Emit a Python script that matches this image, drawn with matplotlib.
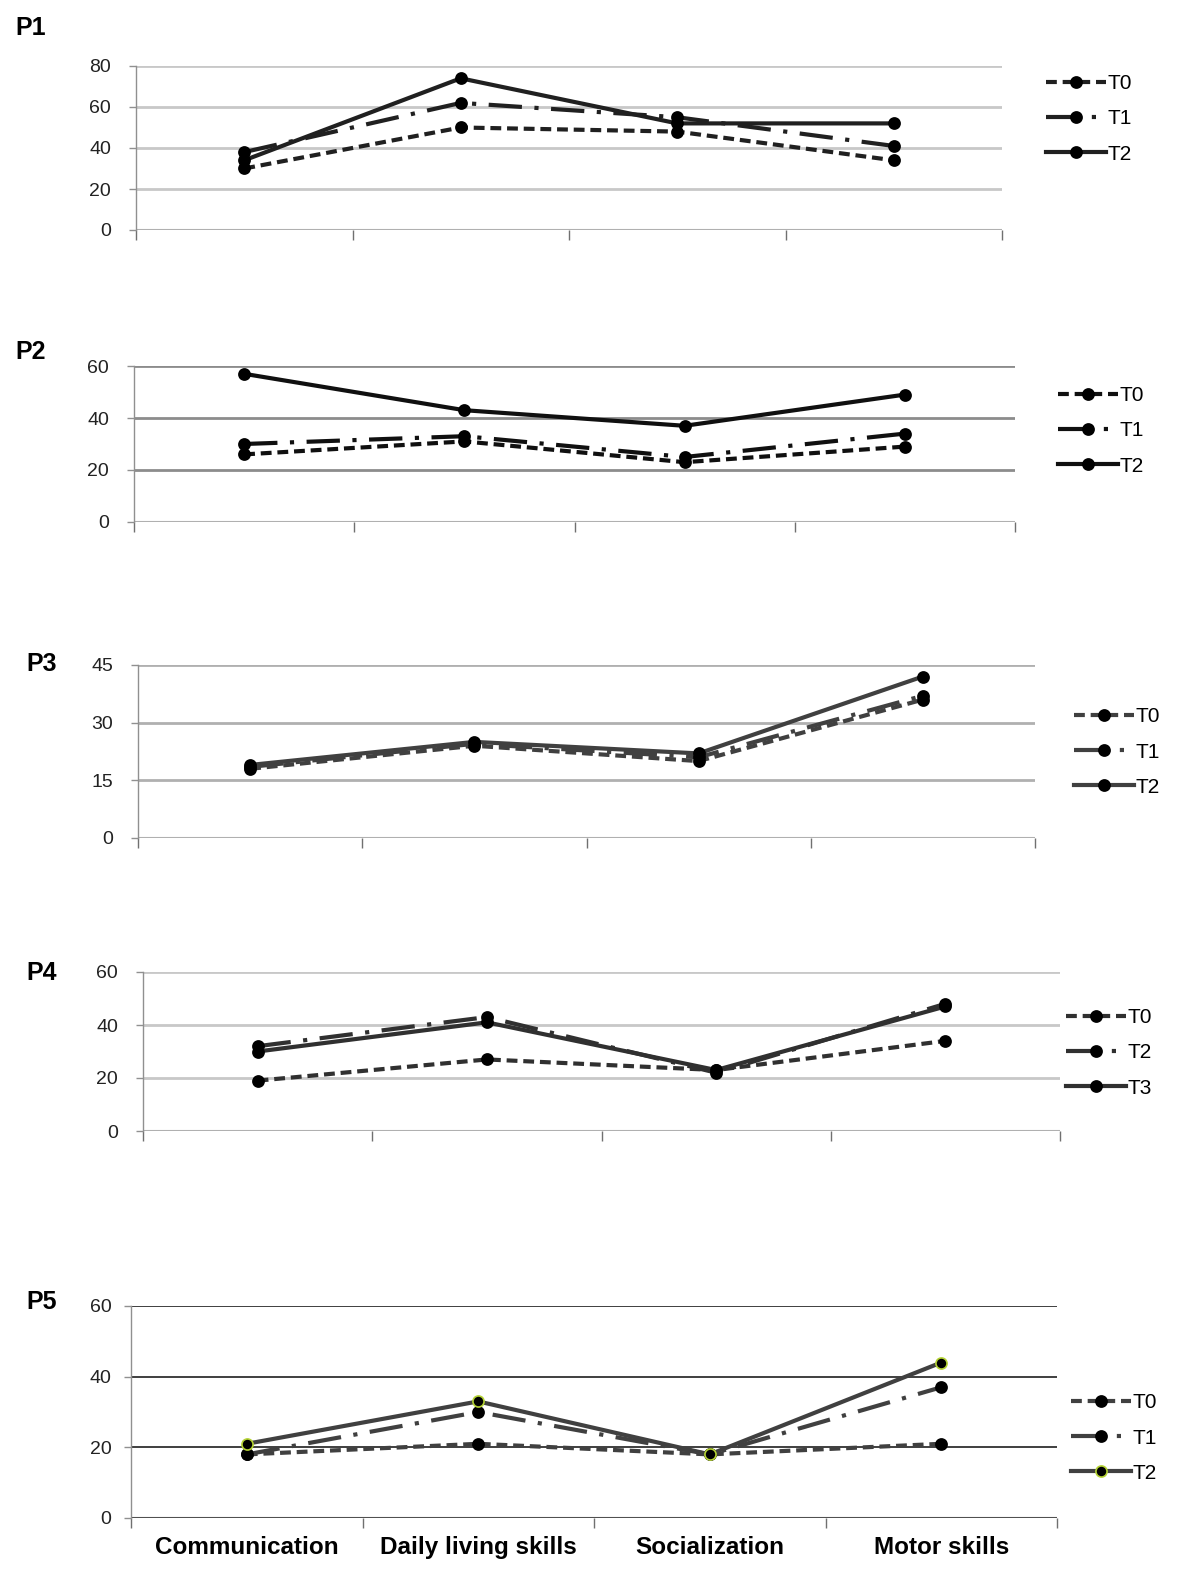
import matplotlib
matplotlib.use("Agg")
import matplotlib.pyplot as plt

plt.rcParams['font.family'] = ['Liberation Sans', 'DejaVu Sans']

categories = ["Communication", "Daily living skills", "Socialization", "Motor skills"]

# Panel data (T0, T1, T2 or T0, T2, T3 for P4)
p1_t0 = [30, 50, 48, 34]
p1_t1 = [38, 62, 55, 41]
p1_t2 = [34, 74, 52, 52]

p2_t0 = [26, 31, 23, 29]
p2_t1 = [30, 33, 25, 34]
p2_t2 = [57, 43, 37, 49]

p3_t0 = [18, 24, 20, 36]
p3_t1 = [18.5, 24.5, 21, 37]
p3_t2 = [19, 25, 22, 42]

p4_t0 = [19, 27, 23, 34]
p4_t2 = [32, 43, 22, 48]
p4_t3 = [30, 41, 23, 47]

p5_t0 = [18, 21, 18, 21]
p5_t1 = [18, 30, 18, 37]
p5_t2 = [21, 33, 18, 44]

panel_names = ["P1", "P2", "P3", "P4", "P5"]
legend_labels = [["T0", "T1", "T2"], ["T0", "T1", "T2"], ["T0", "T1", "T2"],
                 ["T0", "T2", "T3"], ["T0", "T1", "T2"]]
series = [[p1_t0, p1_t1, p1_t2], [p2_t0, p2_t1, p2_t2], [p3_t0, p3_t1, p3_t2],
          [p4_t0, p4_t2, p4_t3], [p5_t0, p5_t1, p5_t2]]
yticks = [[0, 20, 40, 60, 80], [0, 20, 40, 60], [0, 15, 30, 45], [0, 20, 40, 60], [0, 20, 40, 60]]

W, H = 1200, 1578
fig = plt.figure(figsize=(W / 100, H / 100), dpi=100)

# axes boxes in pixels: left, right, top, bottom
boxes = [(136, 1002, 66, 230), (134, 1015, 366, 522), (138, 1035, 665, 838),
         (143, 1060, 972, 1131), (131, 1057, 1306, 1518)]
grid_colors = ["#c8c8c8", "#8c8c8c", "#b0b0b0", "#c8c8c8", "#303030"]
label_pos = [(15, 28), (15, 352), (26, 664), (26, 973), (26, 1302)]
legend_pos = [(1046, 119), (1058, 431), (1074, 752), (1066, 1053), (1071, 1438)]
ytick_pad = [13, 13, 13, 13, 9]
line_colors = [["#202020"] * 3, ["#101010"] * 3, ["#404040"] * 3,
               ["#303030"] * 3, ["#404040"] * 3]
styles = [(0, (2.6, 1.4)), (0, (8, 3, 1, 3)), "-"]

x = [1, 2, 3, 4]
for i in range(5):
    l, r, t, b = boxes[i]
    ax = fig.add_axes([l / W, 1 - b / H, (r - l) / W, (b - t) / H])
    handles = []
    for j in range(3):
        mec = "#b5d334" if (i == 4 and j == 2) else "black"
        ln, = ax.plot(x, series[i][j], linestyle=styles[j], color=line_colors[i][j],
                      lw=3, marker="o", ms=8, mfc="black", mec=mec, mew=1.2,
                      label=legend_labels[i][j])
        handles.append(ln)
    ax.set_xlim(0.5, 4.5)
    ax.set_ylim(0, yticks[i][-1])
    ax.set_yticks(yticks[i])
    for yv in yticks[i][1:]:
        ax.axhline(yv, color=grid_colors[i], lw=2 if i != 4 else 1.3, zorder=0)
    ax.axhline(0, color="#b0b0b0" if i != 4 else "#505050", lw=1.5, zorder=0)
    ax.set_xticks([0.5, 1.5, 2.5, 3.5, 4.5])
    ax.set_xticklabels([])
    ax.tick_params(axis='x', length=7, width=1, color="#707070", direction='out')
    ax.tick_params(axis='y', length=5, width=1, color="#909090", labelsize=14,
                   labelcolor="#222222", pad=ytick_pad[i])
    for s in ["top", "right", "bottom"]:
        ax.spines[s].set_visible(False)
    ax.spines["left"].set_color("#909090")
    ax.spines["left"].set_linewidth(1)
    if i == 4:
        ax.set_xticks(x, minor=True)
        ax.set_xticklabels(categories, minor=True, fontsize=17.5, fontweight='bold')
        ax.tick_params(axis='x', which='minor', length=0, pad=13)
    fig.text(label_pos[i][0] / W, 1 - label_pos[i][1] / H, panel_names[i],
             fontsize=18, fontweight='bold', va='center', ha='left')
    lx, ly = legend_pos[i]
    ax.legend(handles=handles, loc='center left', bbox_to_anchor=(lx / W, 1 - ly / H),
              bbox_transform=fig.transFigure, frameon=False, fontsize=15,
              handlelength=2.9, handletextpad=0.05, labelspacing=0.78,
              borderaxespad=0, borderpad=0)

fig.savefig("out.png", dpi=100, facecolor="white")
